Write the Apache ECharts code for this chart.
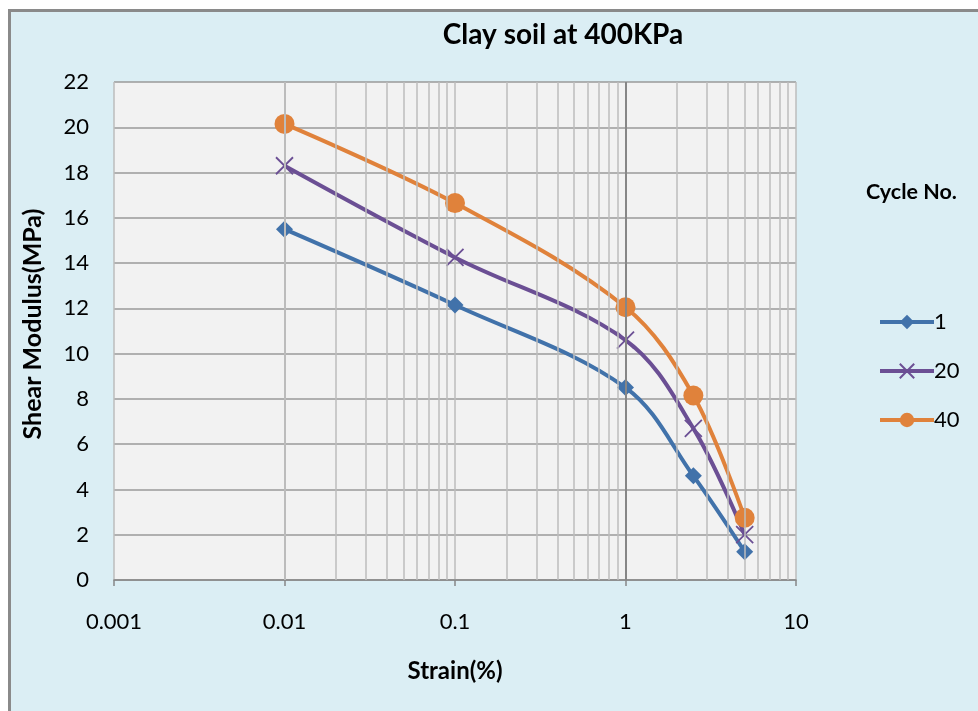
<!DOCTYPE html>
<html>
<head>
<meta charset="utf-8">
<title>Clay soil at 400KPa</title>
<script src="https://cdn.jsdelivr.net/npm/echarts@6/dist/echarts.min.js"></script>
<style>
  html, body { margin: 0; padding: 0; background: #ffffff; }
  #chart { width: 978px; height: 711px; }
</style>
</head>
<body>
<div id="chart"></div>
<script>
// Strain (%) at which the shear modulus was measured
const strain = [0.01, 0.1, 1, 2.5, 5];
// Shear modulus (MPa) per loading cycle
const cycle1 = [15.5, 12.15, 8.5, 4.6, 1.25];
const cycle20 = [18.3, 14.25, 10.6, 6.7, 2.0];
const cycle40 = [20.15, 16.65, 12.05, 8.15, 2.75];
const seriesNames = ['1', '20', '40'];
// Log axis labels and the in-between gridlines (2..9 within each decade)
const xTickLabels = ['0.001', '0.01', '0.1', '1', '10'];
const xTickValues = [0.001, 0.01, 0.1, 1, 10];
const minorGrid = [
  0.002, 0.003, 0.004, 0.005, 0.006, 0.007, 0.008, 0.009,
  0.02, 0.03, 0.04, 0.05, 0.06, 0.07, 0.08, 0.09,
  0.2, 0.3, 0.4, 0.5, 0.6, 0.7, 0.8, 0.9,
  2, 3, 4, 5, 6, 7, 8, 9
];

const FONT = 'Lato, "Open Sans", sans-serif';
const crossPath = 'path://M0,0L10,10M10,0L0,10';

function pairs(ys) {
  return strain.map((x, i) => [x, ys[i]]);
}

function labelFor(v) {
  for (let i = 0; i < xTickValues.length; i++) {
    if (Math.abs(Math.log10(v) - Math.log10(xTickValues[i])) < 1e-6) return xTickLabels[i];
  }
  return '';
}

const chart = echarts.init(document.getElementById('chart'), null, { renderer: 'canvas' });

chart.setOption({
  backgroundColor: '#ffffff',
  animation: false,
  graphic: [{
    type: 'rect',
    z: -100,
    silent: true,
    shape: { x: 9.5, y: 10.5, width: 1000, height: 800 },
    style: { fill: '#dbeef4', stroke: '#8a8a8a', lineWidth: 3 }
  }],
  title: [{
    text: 'Clay soil at 400KPa',
    left: 558,
    top: 16,
    textAlign: 'center',
    textStyle: { fontFamily: FONT, fontWeight: 'bold', fontSize: 28, color: '#000' }
  }, {
    text: 'Cycle No.',
    left: 861,
    top: 176,
    textStyle: { fontFamily: FONT, fontWeight: 'bold', fontSize: 21.5, color: '#000' }
  }],
  legend: {
    data: seriesNames,
    orient: 'vertical',
    left: 873,
    top: 306,
    itemWidth: 54,
    itemHeight: 18,
    itemGap: 27,
    lineStyle: { width: 4 },
    textStyle: { fontFamily: FONT, fontSize: 22, color: '#000', padding: [0, 0, 0, -5] }
  },
  grid: {
    left: 114,
    right: 182,
    top: 82,
    bottom: 131,
    show: true,
    backgroundColor: '#f2f2f2',
    borderWidth: 0
  },
  xAxis: {
    type: 'log',
    logBase: 10,
    min: 0.001,
    max: 10,
    name: 'Strain(%)',
    nameLocation: 'middle',
    nameGap: 79,
    nameTextStyle: { fontFamily: FONT, fontWeight: 'bold', fontSize: 24, color: '#000' },
    axisLine: { show: true, lineStyle: { color: '#868686', width: 1.5 } },
    axisTick: { show: true, length: 6, lineStyle: { color: '#868686', width: 1.5 } },
    axisLabel: {
      fontFamily: FONT, fontSize: 22, color: '#000', margin: 31,
      formatter: labelFor
    },
    splitLine: { show: true, lineStyle: { color: '#bcbcbc', width: 1.5 } }
  },
  yAxis: {
    type: 'value',
    min: 0,
    max: 22,
    interval: 2,
    name: 'Shear Modulus(MPa)',
    nameLocation: 'middle',
    nameGap: 69,
    nameTextStyle: { fontFamily: FONT, fontWeight: 'bold', fontSize: 25, color: '#000', padding: [0, 0, 0, 14] },
    axisLine: { show: false },
    axisTick: { show: false },
    axisLabel: { fontFamily: FONT, fontSize: 22, color: '#000', margin: 25 },
    splitLine: { show: true, lineStyle: { color: '#9a9a9a', width: 1.5 } }
  },
  series: [{
    name: 'grid',
    type: 'line',
    data: [],
    silent: true,
    markLine: {
      silent: true,
      symbol: 'none',
      label: { show: false },
      emphasis: { disabled: true },
      lineStyle: { color: '#bcbcbc', width: 1.5, type: 'solid' },
      data: minorGrid.map(v => ({ xAxis: v })).concat([
        { xAxis: 1, lineStyle: { color: '#868686', width: 2, type: 'solid' } }
      ])
    }
  }, {
    name: seriesNames[0],
    type: 'line',
    smooth: 0.35,
    data: pairs(cycle1),
    symbol: 'diamond',
    symbolSize: 17,
    lineStyle: { color: '#4172aa', width: 4 },
    itemStyle: { color: '#4172aa' }
  }, {
    name: seriesNames[1],
    type: 'line',
    smooth: 0.35,
    data: pairs(cycle20),
    symbol: crossPath,
    symbolSize: 17,
    lineStyle: { color: '#6b4f94', width: 4 },
    itemStyle: { color: '#6b4f94', borderColor: '#6b4f94', borderWidth: 1.8 }
  }, {
    name: seriesNames[2],
    type: 'line',
    smooth: 0.35,
    data: pairs(cycle40),
    symbol: 'circle',
    symbolSize: 20,
    lineStyle: { color: '#e0823b', width: 4 },
    itemStyle: { color: '#e0823b' }
  }]
});
</script>
</body>
</html>
